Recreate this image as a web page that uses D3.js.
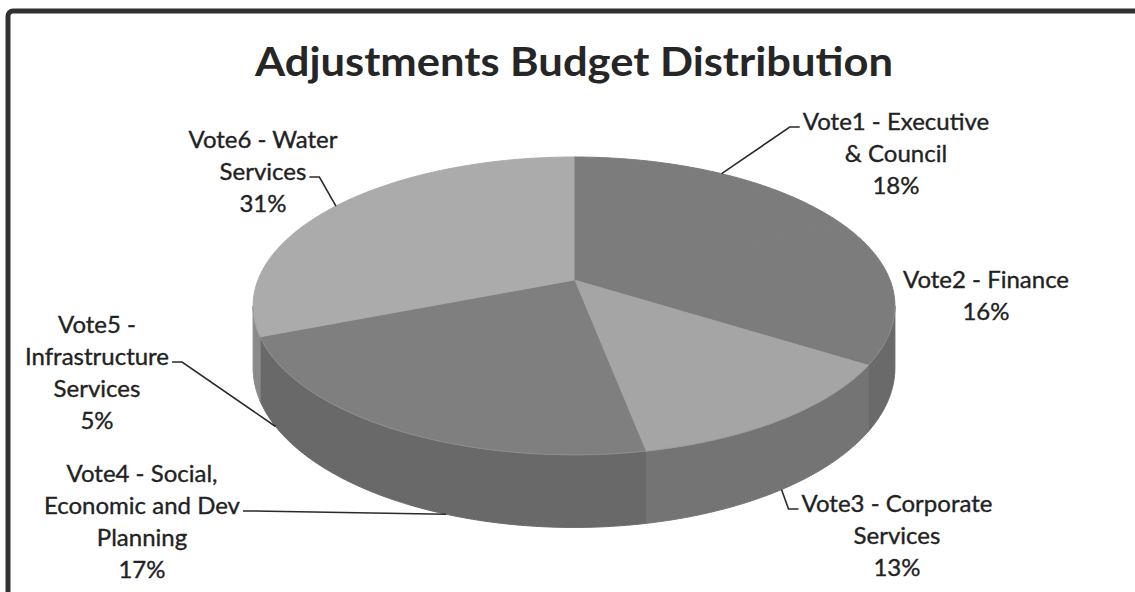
<!DOCTYPE html>
<html>
<head>
<meta charset="utf-8">
<script src="https://cdn.jsdelivr.net/npm/d3@7"></script>
<style>
  html, body { margin: 0; padding: 0; background: #fff; }
  svg { display: block; }
  .lbl { font-family: Lato, "Open Sans", sans-serif; font-size: 24px; fill: #222; stroke: #222; stroke-width: 0.35px; }
  .title { font-family: Lato, "Open Sans", sans-serif; font-size: 40px; font-weight: 700; fill: #262626; }
</style>
</head>
<body>
<div id="chart"></div>
<script>
// data
const categories = ['Vote1 - Executive & Council', 'Vote2 - Finance', 'Vote3 - Corporate Services',
  'Vote4 - Social, Economic and Dev Planning', 'Vote5 - Infrastructure Services', 'Vote6 - Water Services'];
const shares = [18, 16, 13, 17, 5, 31];
const labelLines = [
  ['Vote1 - Executive', '& Council'],
  ['Vote2 - Finance'],
  ['Vote3 - Corporate', 'Services'],
  ['Vote4 - Social,', 'Economic and Dev', 'Planning'],
  ['Vote5 -', 'Infrastructure', 'Services'],
  ['Vote6 - Water', 'Services']
];
const chartTitle = 'Adjustments Budget Distribution';

// styles (scan is grayscale, neighbouring slices print the same grey)
const topColors = ['#7c7c7c', '#7c7c7c', '#a5a5a5', '#7f7f7f', '#7f7f7f', '#ababab'];
const sideColors = ['#6a6a6a', '#6a6a6a', '#747474', '#696969', '#696969', '#8a8a8a'];

// label layout: centre x, first baseline, which line the leader hooks to, which side
const labelPos = [
  {x: 896, y: 130, hook: 0, side: 'r'},
  {x: 986, y: 288, hook: -1},
  {x: 897, y: 512, hook: 0, side: 'r'},
  {x: 142, y: 482, hook: 1, side: 'l'},
  {x: 97, y: 333, hook: 1, side: 'l'},
  {x: 263, y: 148, hook: 1, side: 'l'}
];
const LINE_H = 32;

const width = 1135, height = 592;
// pie geometry (perspective tilted disc)
const CX = 574, CY = 280, R = 316, A = 144.4, P = 0.174, DEPTH = 60;

const svg = d3.select('#chart').append('svg')
  .attr('width', width).attr('height', height);

// frame
svg.append('rect')
  .attr('x', 8).attr('y', 11).attr('width', width + 20).attr('height', height + 20)
  .attr('rx', 5)
  .attr('fill', 'none').attr('stroke', '#303030').attr('stroke-width', 5);

svg.append('text').attr('class', 'title')
  .attr('x', CX).attr('y', 76).attr('text-anchor', 'middle')
  .attr('textLength', 638).attr('lengthAdjust', 'spacingAndGlyphs')
  .text(chartTitle);

function proj(t, drop) {
  const k = 1 / (1 + P * Math.cos(t));
  return [CX + R * Math.sin(t) * k, CY - A * Math.cos(t) * k + (drop || 0) * k];
}

function arcPts(a, b, drop) {
  const n = Math.max(2, Math.ceil(Math.abs(b - a) / 0.01));
  return d3.range(n + 1).map(i => proj(a + (b - a) * i / n, drop));
}

const pie = d3.pie().sort(null).value(d => d);
const arcs = pie(shares);
const line = d3.line();

// visible part of the side wall
const vis0 = Math.acos(-P), vis1 = 2 * Math.PI - Math.acos(-P);

const sides = svg.append('g').attr('class', 'sides');
arcs.forEach((d, i) => {
  const a = Math.max(d.startAngle, vis0), b = Math.min(d.endAngle, vis1);
  if (b <= a) return;
  const pts = arcPts(a, b, 0).concat(arcPts(b, a, DEPTH));
  sides.append('path')
    .attr('d', line(pts) + 'Z')
    .attr('fill', sideColors[i])
    .attr('stroke', sideColors[i]).attr('stroke-width', 1);
});

const tops = svg.append('g').attr('class', 'slices');
arcs.forEach((d, i) => {
  const pts = [[CX, CY]].concat(arcPts(d.startAngle, d.endAngle, 0));
  tops.append('path')
    .attr('d', line(pts) + 'Z')
    .attr('fill', topColors[i])
    .attr('stroke', topColors[i]).attr('stroke-width', 1);
});

// faint rim where the top meets the wall
svg.append('path')
  .attr('d', line(arcPts(vis0, vis1, 0)))
  .attr('fill', 'none').attr('stroke', '#9a9a9a').attr('stroke-width', 1).attr('stroke-opacity', 0.6);

// labels and leader lines
const labels = svg.append('g').attr('class', 'labels');
arcs.forEach((d, i) => {
  const pos = labelPos[i];
  const lines = labelLines[i].concat([shares[i] + '%']);
  const t = labels.append('text').attr('class', 'lbl').attr('text-anchor', 'middle');
  lines.forEach((s, j) => {
    t.append('tspan').attr('x', pos.x).attr('y', pos.y + j * LINE_H).text(s);
  });
  if (pos.hook < 0) return;

  const mid = (d.startAngle + d.endAngle) / 2;
  const front = Math.cos(mid) < -P;
  const target = proj(mid, front ? DEPTH : 0);
  const ts = t.selectAll('tspan').nodes()[pos.hook];
  const w = ts.getComputedTextLength();
  const ly = pos.y + pos.hook * LINE_H - 3;
  const lx = pos.side === 'r' ? pos.x - w / 2 - 3 : pos.x + w / 2 + 3;
  const ex = pos.side === 'r' ? lx - 10 : lx + 10;
  labels.append('path')
    .attr('d', line([[lx, ly], [ex, ly], target]))
    .attr('fill', 'none').attr('stroke', '#2a2a2a').attr('stroke-width', 1.6);
});
</script>
</body>
</html>
